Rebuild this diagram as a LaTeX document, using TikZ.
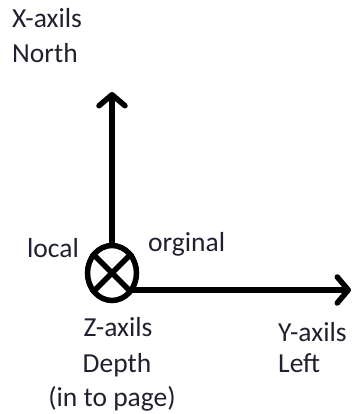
\documentclass[tikz,border=0pt]{standalone}
\usepackage{fontspec}
\setmainfont{Carlito}
\usetikzlibrary{arrows.meta,shapes.geometric}
\definecolor{txt}{RGB}{32,32,48}
\tikzset{
  lbl/.style={inner sep=0pt,text=txt,font=\fontsize{27.5}{32}\selectfont},
  axis/.style={line width=5.5pt,line cap=round,
    -{Straight Barb[length=11pt,width=26pt,line cap=round,line join=round]}},
  thick5/.style={line width=5.5pt}
}
\begin{document}
\begin{tikzpicture}[x=1pt,y=1pt]
\useasboundingbox (0,0) rectangle (354,414);
\node[ellipse,draw,thick5,minimum width=49pt,minimum height=55pt,inner sep=0pt] (orig) at (112,141) {};
\draw[thick5] (orig.45) -- (orig.225);
\draw[thick5] (orig.135) -- (orig.315);
\coordinate (xtip) at (112,322);
\coordinate (ytip) at (351,124);
\coordinate (ystart) at (131,124);
\draw[axis] (orig.north) -- (xtip);
\draw[axis] (ystart) -- (ytip);
\node[lbl,anchor=base west] (xa) at (12,386) {X-axils};
\node[lbl,anchor=base west] (xn) at (12,351) {North};
\node[lbl,anchor=base west] (loc) at (27,156) {local};
\node[lbl,anchor=base west] (org) at (148,162) {orginal};
\node[lbl,anchor=base] (za) at (118,77) {Z-axils};
\node[lbl,anchor=base] (zd) at (117,41) {Depth};
\node[lbl,anchor=base] (zp) at (112,7) {(in to page)};
\node[lbl,anchor=base west] (ya) at (278,72) {Y-axils};
\node[lbl,anchor=base west] (yl) at (278,41) {Left};
\end{tikzpicture}
\end{document}
